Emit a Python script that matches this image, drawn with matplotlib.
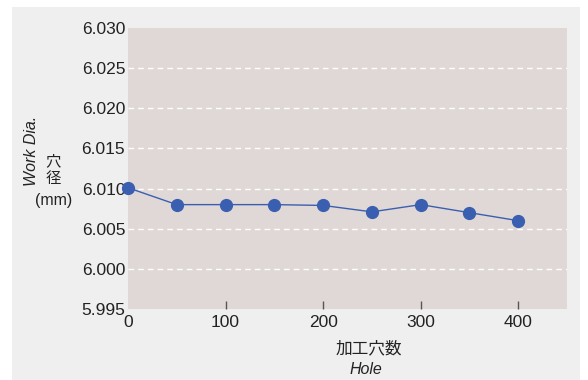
import matplotlib.pyplot as plt
from matplotlib.patches import Rectangle

# data
holes = [0, 50, 100, 150, 200, 250, 300, 350, 400]
work_dia = [6.0101, 6.0080, 6.0080, 6.0080, 6.0079, 6.0071, 6.0080, 6.0070, 6.0060]
yticks = [5.995, 6.000, 6.005, 6.010, 6.015, 6.020, 6.025, 6.030]
xticks = [0, 100, 200, 300, 400]

plt.rcParams['font.family'] = ['Liberation Sans', 'Noto Sans CJK JP']

W, H = 588, 380
fig = plt.figure(figsize=(W / 100, H / 100), dpi=100, facecolor='white')
fig.patches.append(Rectangle((12 / W, 0), 568 / W, 373 / H, transform=fig.transFigure,
                             facecolor='#eeefee', edgecolor='none', zorder=-10))

ax = fig.add_axes([128 / W, 1 - 309 / H, (567 - 128) / W, (309 - 28) / H])
ax.set_facecolor('#e0d8d6')
ax.plot(holes, work_dia, color='#3a5fb0', lw=1, marker='o', ms=8.5, clip_on=False, zorder=3)

ax.set_xlim(0, 450)
ax.set_ylim(5.995, 6.030)
ax.set_xticks(xticks)
ax.set_yticks(yticks)
ax.set_yticklabels([f'{v:.3f}' for v in yticks])
for s in ax.spines.values():
    s.set_visible(False)
ax.tick_params(axis='y', length=0, pad=2, labelsize=12.5, labelcolor='#222222')
ax.tick_params(axis='x', direction='in', length=6, width=1, color='#555555',
               pad=4, labelsize=12.5, labelcolor='#222222')
ax.xaxis.get_major_ticks()[0].tick1line.set_visible(False)
for v in yticks[1:-1]:
    ax.axhline(v, color='white', lw=1, ls=(0, (4, 3)), zorder=1)

# axis titles
cjk = ['Noto Sans CJK JP']
fig.text(369 / W, 1 - 349 / H, '加工穴数', ha='center', va='center', fontsize=12,
         color='#222222', family=cjk)
fig.text(366 / W, 1 - 370 / H, 'Hole', ha='center', va='center', fontsize=11.5,
         style='italic', color='#222222')
fig.text(31 / W, 1 - 151 / H, 'Work Dia.', ha='center', va='center', rotation=90,
         fontsize=11.5, style='italic', color='#222222')
fig.text(53 / W, 1 - 162 / H, '穴', ha='center', va='center', fontsize=11,
         color='#222222', family=cjk)
fig.text(53 / W, 1 - 179 / H, '径', ha='center', va='center', fontsize=11,
         color='#222222', family=cjk)
fig.text(54 / W, 1 - 200 / H, '(mm)', ha='center', va='center', fontsize=11.5,
         color='#222222')

fig.savefig('out.png', dpi=100, facecolor='white')
